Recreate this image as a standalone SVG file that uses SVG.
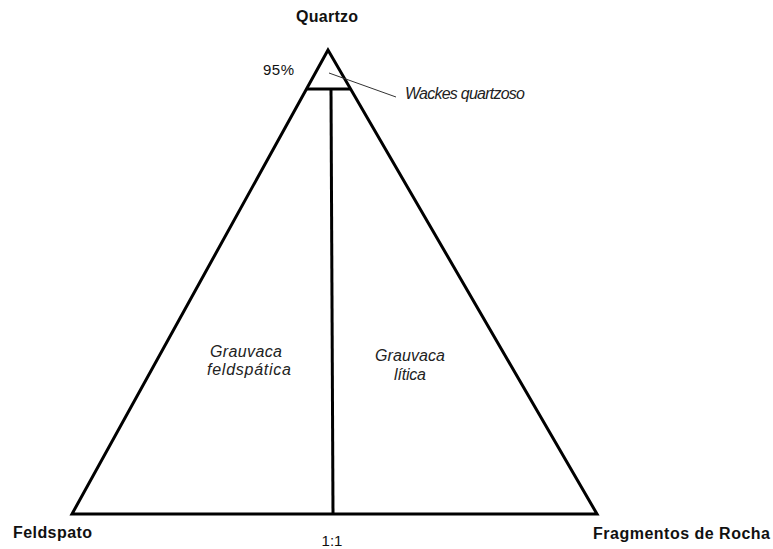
<svg xmlns="http://www.w3.org/2000/svg" width="773" height="549" viewBox="0 0 773 549">
<style>
.ln{fill:none;stroke:#000;stroke-width:3;stroke-linejoin:miter}
.b{font-family:"Liberation Sans",Arial,sans-serif;font-weight:bold;font-size:16px;fill:#111}
.r{font-family:"Liberation Sans",Arial,sans-serif;font-size:15px;fill:#111}
.i{font-family:"Liberation Sans",Arial,sans-serif;font-style:italic;font-size:16px;fill:#222}
</style>
<rect width="773" height="549" fill="#fff"/>
<g id="triangle">
<polygon class="ln" points="328,50 72,514 597,514"/>
<line class="ln" x1="307" y1="89" x2="350" y2="89"/>
<line class="ln" x1="331" y1="89" x2="333" y2="514"/>
</g>
<g id="connectors">
<line x1="329" y1="73" x2="396" y2="97" stroke="#333" stroke-width="1"/>
</g>
<g id="labels">
<text class="b" x="296" y="22" textLength="62" lengthAdjust="spacing">Quartzo</text>
<text class="r" x="263" y="75" textLength="31" lengthAdjust="spacing">95%</text>
<text class="i" x="405" y="99" font-size="14" textLength="120" lengthAdjust="spacing">Wackes quartzoso</text>
<text class="b" x="13" y="538" textLength="79" lengthAdjust="spacing">Feldspato</text>
<text class="r" x="332" y="546" font-size="14" text-anchor="middle">1:1</text>
<text class="b" x="593" y="539" textLength="177" lengthAdjust="spacing">Fragmentos de Rocha</text>
<text class="i" x="210" y="357" textLength="72" lengthAdjust="spacing">Grauvaca</text>
<text class="i" x="207" y="375" textLength="84" lengthAdjust="spacing">feldspática</text>
<text class="i" x="375" y="361" textLength="70" lengthAdjust="spacing">Grauvaca</text>
<text class="i" x="394" y="380" textLength="32" lengthAdjust="spacing">lítica</text>
</g>
</svg>
